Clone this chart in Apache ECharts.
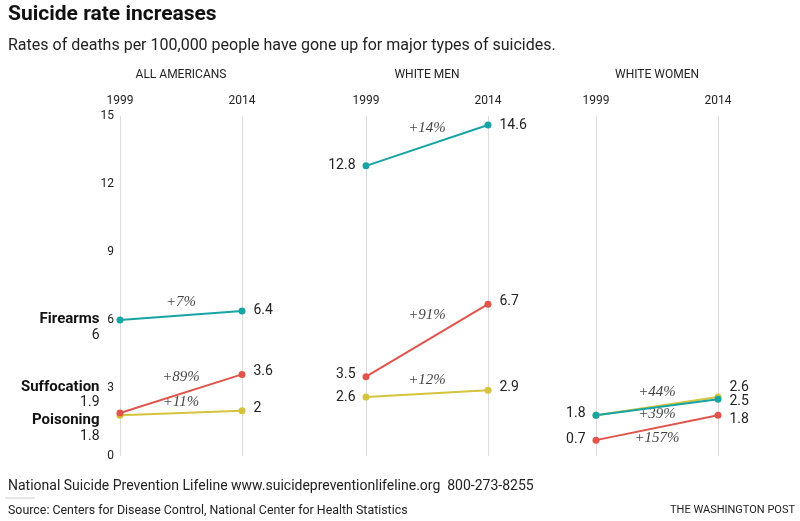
<!DOCTYPE html>
<html>
<head>
<meta charset="utf-8">
<script src="https://cdn.jsdelivr.net/npm/echarts@6/dist/echarts.min.js"></script>
<style>
  html, body { margin: 0; padding: 0; background: #fff; }
  #chart { width: 800px; height: 521px; }
</style>
</head>
<body>
<div id="chart"></div>
<script>
// data: [1999, 2014] per group
const years = ['1999', '', '2014']
const groups = ['ALL AMERICANS', 'WHITE MEN', 'WHITE WOMEN']
const methods = ['Poisoning', 'Suffocation', 'Firearms']
const poisoning = [[1.8, 2], [2.6, 2.9], [1.8, 2.6]]
const suffocation = [[1.9, 3.6], [3.5, 6.7], [0.7, 1.8]]
const firearms = [[6, 6.4], [12.8, 14.6], [1.8, 2.5]]
const poisoningChange = ['+11%', '+12%', '+44%']
const suffocationChange = ['+89%', '+91%', '+157%']
const firearmsChange = ['+7%', '+14%', '+39%']
const yMin = 0, yMax = 15, yStep = 3

const FONT = 'Roboto, "Noto Sans", sans-serif'
const colors = { Poisoning: '#d4c43b', Suffocation: '#e0554b', Firearms: '#18a3a5' }
const values = { Poisoning: poisoning, Suffocation: suffocation, Firearms: firearms }
const changes = { Poisoning: poisoningChange, Suffocation: suffocationChange, Firearms: firearmsChange }

// label nudges (px) per method, per group: [1999 label dy, 2014 label dy, change label dy]
const nudge = {
  Poisoning:   [[13.5, -2, -11], [0, -3, -14], [null, -10, -14]],
  Suffocation: [[-18, -3, -17], [-2, -3, -25], [-1, 4, 10]],
  Firearms:    [[7.5, 0, -13], [0, 0, -17], [-2, 2, 7]]
}

const gridLefts = [120, 366, 596]
const gridWidth = 122

const grid = gridLefts.map(l => ({ left: l, width: gridWidth, top: 116, bottom: 65 }))

const xAxis = groups.map((g, i) => ({
  gridIndex: i,
  type: 'category',
  data: years,
  position: 'top',
  boundaryGap: false,
  name: g,
  nameLocation: 'middle',
  nameGap: 35,
  nameTextStyle: { fontFamily: FONT, fontSize: 12, color: '#222' },
  axisLine: { show: false },
  axisTick: { show: false },
  axisLabel: { margin: 9, fontFamily: FONT, fontSize: 12, color: '#222', interval: 0 },
  splitLine: { show: true, interval: (idx) => idx !== 1, lineStyle: { color: '#dcdcdc', width: 1 } }
}))

const yAxis = groups.map((g, i) => ({
  gridIndex: i,
  type: 'value',
  min: yMin,
  max: yMax,
  interval: yStep,
  axisLine: { show: false },
  axisTick: { show: false },
  splitLine: { show: false },
  axisLabel: { show: i === 0, margin: 6, fontFamily: FONT, fontSize: 12, color: '#222' }
}))

const valueLabel = { fontFamily: FONT, fontSize: 14, color: '#222' }
const series = []
groups.forEach((g, gi) => {
  methods.forEach(m => {
    const [v0, v1] = values[m][gi]
    const [d0, d1, dc] = nudge[m][gi]
    let startLabel
    if (gi === 0) {
      startLabel = {
        show: true, position: 'left', distance: 17, offset: [0, d0],
        formatter: '{n|' + m + '}\n{v|' + v0 + '}',
        rich: {
          n: { fontFamily: FONT, fontSize: 15, fontWeight: 'bold', color: '#111', lineHeight: 16 },
          v: { fontFamily: FONT, fontSize: 14, color: '#222', lineHeight: 16 }
        }
      }
    } else {
      startLabel = Object.assign({ show: d0 !== null, position: 'left', distance: 7, offset: [0, d0 || 0] }, valueLabel)
    }
    series.push({
      type: 'line',
      xAxisIndex: gi, yAxisIndex: gi,
      name: m,
      symbol: 'circle', symbolSize: 7,
      itemStyle: { color: colors[m] },
      lineStyle: { color: colors[m], width: 2 },
      silent: true, animation: false,
      data: [
        { value: [0, v0], label: startLabel },
        { value: [2, v1], label: Object.assign({ show: true, position: 'right', distance: 8, offset: [0, d1] }, valueLabel) }
      ]
    })
    series.push({
      type: 'scatter',
      xAxisIndex: gi, yAxisIndex: gi,
      symbolSize: 0, silent: true, animation: false,
      data: [{
        value: [1, (v0 + v1) / 2],
        label: {
          show: true, position: 'inside', offset: [0, dc],
          formatter: changes[m][gi],
          fontFamily: '"Liberation Serif", "DejaVu Serif", serif',
          fontStyle: 'italic', fontSize: 15, color: '#111'
        }
      }]
    })
  })
})

const graphic = [
  { type: 'text', left: 8, top: 4, style: { text: 'Suicide rate increases', font: 'bold 21px ' + FONT, fill: '#111' } },
  { type: 'text', left: 8, top: 38, style: { text: 'Rates of deaths per 100,000 people have gone up for major types of suicides.', font: '16px ' + FONT, fill: '#222' } },
  { type: 'text', left: 8, top: 479, style: { text: 'National Suicide Prevention Lifeline www.suicidepreventionlifeline.org  800-273-8255', font: '14px ' + FONT, fill: '#222' } },
  { type: 'line', shape: { x1: 5, y1: 498, x2: 35, y2: 498 }, style: { stroke: '#cccccc', lineWidth: 1 } },
  { type: 'text', left: 8, top: 505, style: { text: 'Source: Centers for Disease Control, National Center for Health Statistics', font: '12.4px ' + FONT, fill: '#222' } },
  { type: 'text', right: 5, top: 505, style: { text: 'THE WASHINGTON POST', font: '11px ' + FONT, fill: '#222' } }
]

const chart = echarts.init(document.getElementById('chart'))
chart.setOption({
  backgroundColor: '#fff',
  animation: false,
  grid, xAxis, yAxis, series, graphic
})
</script>
</body>
</html>
